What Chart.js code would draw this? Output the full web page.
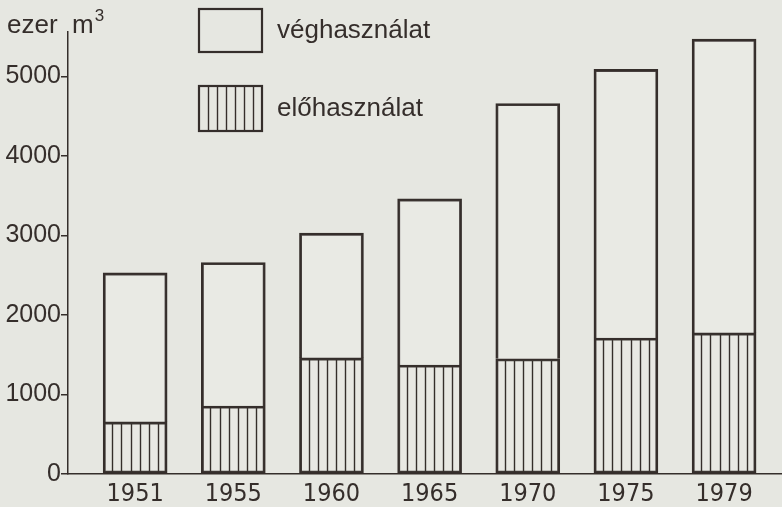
<!DOCTYPE html>
<html lang="hu">
<head>
<meta charset="utf-8">
<title>Fakitermelés 1951–1979</title>
<script src="https://cdn.jsdelivr.net/npm/chart.js@4.4.1/dist/chart.umd.min.js"></script>
<style>
  html, body { margin: 0; padding: 0; background: #e6e7e1; }
  #wrap { width: 782px; height: 507px; }
</style>
</head>
<body>
<div id="wrap"><canvas id="fakitermelesChart" width="782" height="507"></canvas></div>
<script>
// adatok (ezer m3), leolvasva az ábráról
const evek = ['1951', '1955', '1960', '1965', '1970', '1975', '1979'];
const elohasznalat = [655, 855, 1460, 1370, 1450, 1710, 1775];
const veghasznalat = [1875, 1805, 1570, 2090, 3210, 3380, 3695];
const yTickek = [0, 1000, 2000, 3000, 4000, 5000];

const TINTA = '#352e2b';
const BETU = '"Liberation Sans", Arial, sans-serif';
const KESKENY = '"Liberation Sans Narrow", "DejaVu Sans Condensed", "Liberation Sans", sans-serif';

// függőleges vonalkázás a bar belsejében
function vonalkaz(ctx, left, top, width, bottom) {
  ctx.save();
  ctx.strokeStyle = TINTA;
  ctx.lineWidth = 1.4;
  for (let k = 1; k <= 6; k++) {
    const x = Math.round(left + k * width / 7) + 0.5;
    ctx.beginPath();
    ctx.moveTo(x, top);
    ctx.lineTo(x, bottom);
    ctx.stroke();
  }
  ctx.restore();
}

const hatchPlugin = {
  id: 'hatch',
  afterDatasetsDraw(chart) {
    const meta = chart.getDatasetMeta(0);
    meta.data.forEach((bar) => {
      const p = bar.getProps(['x', 'y', 'base', 'width'], true);
      vonalkaz(chart.ctx, p.x - p.width / 2, p.y + 2, p.width, p.base);
    });
  }
};

// jelmagyarázat és tengelyfelirat
const jelmagyarazatPlugin = {
  id: 'jelmagyarazat',
  afterDraw(chart) {
    const ctx = chart.ctx;
    ctx.save();
    ctx.strokeStyle = TINTA;
    ctx.fillStyle = TINTA;
    ctx.lineWidth = 2.2;
    ctx.strokeRect(199, 9, 63, 43);
    ctx.strokeRect(199, 86, 63, 45);
    vonalkaz(ctx, 199, 86, 63, 131);

    ctx.font = '26px ' + BETU;
    ctx.textBaseline = 'alphabetic';
    ctx.textAlign = 'left';
    ctx.fillText(chart.data.datasets[1].label, 277, 38);
    ctx.fillText(chart.data.datasets[0].label, 277, 116);
    ctx.fillText('ezer  m', 7, 33);
    const w = ctx.measureText('ezer  m').width;
    ctx.font = '17px ' + BETU;
    ctx.fillText('3', 7 + w + 1, 21);
    ctx.restore();
  }
};

const ctx = document.getElementById('fakitermelesChart').getContext('2d');
new Chart(ctx, {
  type: 'bar',
  data: {
    datasets: [
      {
        label: 'előhasználat',
        data: elohasznalat.map((v, i) => ({ x: i, y: v })),
        backgroundColor: 'rgba(255,255,255,0.08)',
        borderColor: TINTA,
        borderWidth: 2.2,
        borderSkipped: false,
        barThickness: 64
      },
      {
        label: 'véghasználat',
        data: veghasznalat.map((v, i) => ({ x: i, y: v })),
        backgroundColor: 'rgba(255,255,255,0.12)',
        borderColor: TINTA,
        borderWidth: { top: 2.2, left: 2.2, right: 2.2, bottom: 0 },
        borderSkipped: false,
        barThickness: 64
      }
    ]
  },
  options: {
    responsive: false,
    animation: false,
    devicePixelRatio: 1,
    layout: { padding: { top: 32, right: 0, bottom: 0, left: 0 } },
    plugins: {
      legend: { display: false },
      tooltip: { enabled: false }
    },
    scales: {
      x: {
        type: 'linear',
        stacked: true,
        offset: false,
        min: -0.684,
        max: 6.59,
        afterFit: (s) => { s.height = 33; },
        grid: { display: false, drawTicks: false, offset: false },
        border: { display: true, color: TINTA, width: 1.5 },
        ticks: {
          stepSize: 1,
          includeBounds: false,
          padding: 5,
          maxRotation: 0,
          color: TINTA,
          font: { family: KESKENY, size: 25 },
          callback: (v) => evek[v] || ''
        }
      },
      y: {
        stacked: true,
        min: 0,
        max: 5560,
        afterFit: (s) => { s.width = 68; },
        afterBuildTicks: (s) => { s.ticks = yTickek.map((v) => ({ value: v })); },
        grid: { drawOnChartArea: false, drawTicks: true, tickLength: 7, color: TINTA, lineWidth: 1.5 },
        border: { display: true, color: TINTA, width: 1.5 },
        ticks: {
          padding: 0,
          color: TINTA,
          font: { family: BETU, size: 25 },
          callback: (v) => String(v)
        }
      }
    }
  },
  plugins: [hatchPlugin, jelmagyarazatPlugin]
});
</script>
</body>
</html>
